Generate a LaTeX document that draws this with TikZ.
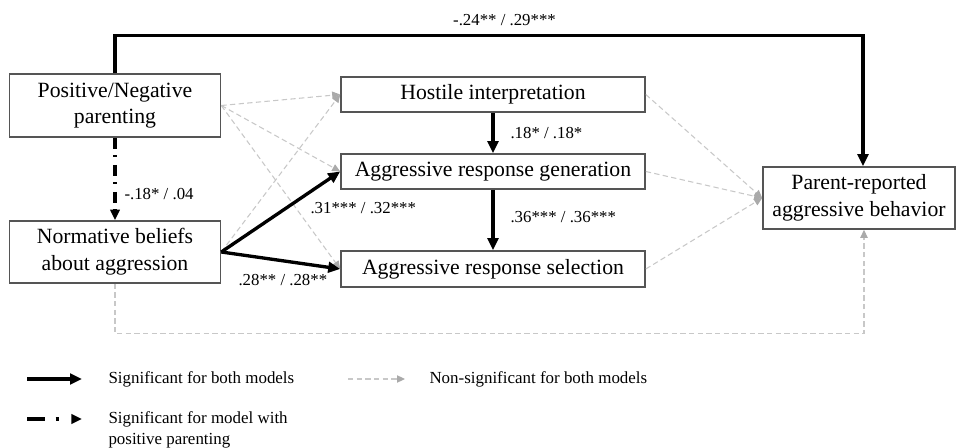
\documentclass[tikz,border=0pt]{standalone}
\usepackage{fontspec}
\setmainfont{Liberation Serif}
\usetikzlibrary{arrows.meta}

\definecolor{boxgray}{RGB}{85,85,85}
\definecolor{nsgray}{RGB}{200,200,200}
\tikzset{every picture/.style={line width=0.75pt}}
\tikzset{
  varbox/.style={draw=boxgray, line width=1.2pt, fill=white, inner sep=0pt, align=center, font=\fontsize{16.3}{20}\selectfont},
  sigline/.style={line width=2.5pt, -{Triangle[length=9pt,width=8pt]}},
  nsline/.style={draw=nsgray, line width=0.8pt, dash pattern=on 4pt off 2.5pt, -{Triangle[length=6pt,width=5.5pt,color=nsgray!85!black]}},
  dotline/.style={line width=2.5pt, dash pattern=on 8.25pt off 5pt on 1.5pt off 5.5pt, -{Triangle[length=8pt,width=7pt]}},
  coef/.style={inner sep=0.75pt, font=\fontsize{12.6}{15}\selectfont},
  legtext/.style={inner sep=0.75pt, anchor=west, align=left, font=\fontsize{12.7}{15.75}\selectfont},
}

\begin{document}
\begin{tikzpicture}[x=0.75pt,y=0.75pt,yscale=-1,xscale=1]
\useasboundingbox (0,0) rectangle (956,448);

%Shape: Rectangle
\node[varbox, minimum width=158.25pt, minimum height=47.25pt] (par) at (115,105.5) {Positive/Negative\\parenting};
%Shape: Rectangle
\node[varbox, minimum width=158.25pt, minimum height=46.5pt] (norm) at (115,252) {Normative beliefs\\about aggression};
%Shape: Rectangle
\node[varbox, minimum width=228pt, minimum height=26.25pt] (host) at (493,94.5) {Hostile interpretation};
%Shape: Rectangle
\node[varbox, minimum width=228pt, minimum height=26.25pt] (gen) at (493,171.5) {Aggressive response generation};
%Shape: Rectangle
\node[varbox, minimum width=228pt, minimum height=27pt] (sel) at (493,269) {Aggressive response selection};
%Shape: Rectangle
\node[varbox, minimum width=144pt, minimum height=46.5pt] (beh) at (859,198) {Parent-reported\\aggressive behavior};

%Straight Lines
\draw[nsline] (par.east) -- (host.west);
\draw[nsline] (par.east) -- (gen.west);
\draw[nsline] (par.east) -- (sel.west);
\draw[nsline] (norm.east) -- (host.west);
\draw[nsline] (host.east) -- (beh.west);
\draw[nsline] (gen.east) -- (beh.west);
\draw[nsline] (sel.east) -- (beh.west);
\draw[nsline] (norm.south) -- ++(0,50) -| ([xshift=3.75pt]beh.south);

%Straight Lines
\draw[sigline] (par.north) -- ++(0,-38) -| ([xshift=3pt]beh.north);
\draw[dotline] (par.south) -- (norm.north);
\draw[sigline] (norm.east) -- (gen.west);
\draw[sigline] (norm.east) -- (sel.west);
\draw[sigline] (host.south) -- (gen.north);
\draw[sigline] (gen.south) -- (sel.north);

% Text Node
\node[coef] (ctop) at (504.5,20) {-.24** / .29***};
% Text Node
\node[coef, anchor=west] (chg) at (509,133) {.18* / .18*};
% Text Node
\node[coef, anchor=west] (cgs) at (509,217) {.36*** / .36***};
% Text Node
\node[coef, anchor=west] (cng) at (309,208) {.31*** / .32***};
% Text Node
\node[coef, anchor=west] (cns) at (237,280) {.28** / .28**};
% Text Node
\node[coef, anchor=west] (cpn) at (123,194) {-.18* / .04};

%Legend
\coordinate (k1a) at (27,379);
\coordinate (k1b) at (82,379);
\draw[sigline] (k1a) -- (k1b);
\node[legtext] (k1) at (107,379) {Significant for both models};
\coordinate (k2a) at (348,379);
\coordinate (k2b) at (405,379);
\draw[nsline] (k2a) -- (k2b);
\node[legtext] (k2) at (428,379) {Non-significant for both models};
\coordinate (k3a) at (27,419);
\coordinate (k3b) at (82,419);
\draw[dotline, dash pattern=on 13.5pt off 8pt on 2.5pt off 20pt] (k3a) -- (k3b);
\node[legtext] (k3) at (107,429.5) {Significant for model with\\positive parenting};

\end{tikzpicture}
\end{document}
